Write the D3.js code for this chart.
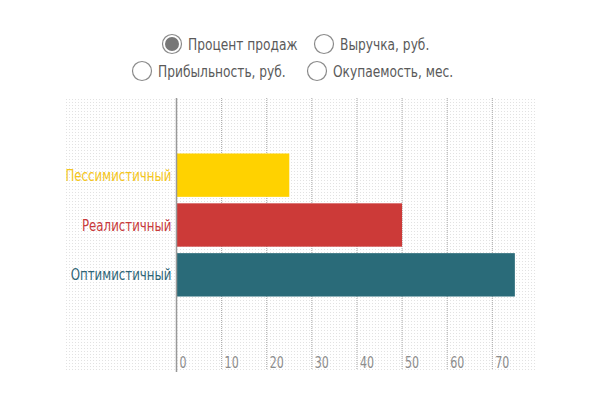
<!DOCTYPE html>
<html>
<head>
<meta charset="utf-8">
<script src="https://cdn.jsdelivr.net/npm/d3@7"></script>
<style>
  body { margin: 0; background: #fff; }
  svg { display: block; font-family: "Liberation Sans Narrow", "DejaVu Sans Condensed", "Roboto", sans-serif; }
</style>
</head>
<body>
<svg width="597" height="393"></svg>
<script>
// data
const categories = ["Пессимистичный", "Реалистичный", "Оптимистичный"];
const values = [25, 50, 75];
const colors = ["#ffd200", "#cc3a38", "#2a6b79"];
const labelColors = ["#f4c520", "#c8393b", "#2e6577"];
const ticks = [0, 10, 20, 30, 40, 50, 60, 70];
const options = ["Процент продаж", "Выручка, руб.", "Прибыльность, руб.", "Окупаемость, мес."];
const selected = 0;

// the fallback font is wider than the narrow one in the original
const squeeze = 0.82;

const svg = d3.select("svg");

// dotted background
const defs = svg.append("defs");
defs.append("pattern")
  .attr("id", "dots")
  .attr("width", 3).attr("height", 3)
  .attr("patternUnits", "userSpaceOnUse")
  .append("rect")
  .attr("width", 1).attr("height", 1)
  .attr("fill", "#e2e2e2");

svg.append("rect")
  .attr("x", 64).attr("y", 98)
  .attr("width", 471).attr("height", 272)
  .attr("fill", "url(#dots)");

const x = d3.scaleLinear().domain([0, 70]).range([176.5, 492.3]);
const y = d3.scaleBand()
  .domain(categories)
  .range([150, 300])
  .paddingInner(0.13)
  .paddingOuter(0.07);

// grid lines
svg.selectAll("line.grid")
  .data(ticks.slice(1))
  .enter()
  .append("line")
  .attr("class", "grid")
  .attr("x1", d => x(d)).attr("x2", d => x(d))
  .attr("y1", 98).attr("y2", 370)
  .attr("stroke", "#a8a8a8")
  .attr("stroke-dasharray", "1,1");

// bars
svg.selectAll("rect.bar")
  .data(values)
  .enter()
  .append("rect")
  .attr("class", "bar")
  .attr("x", x(0))
  .attr("y", (d, i) => y(categories[i]))
  .attr("width", d => x(d) - x(0))
  .attr("height", y.bandwidth())
  .attr("fill", (d, i) => colors[i]);

// zero axis
svg.append("line")
  .attr("x1", x(0)).attr("x2", x(0))
  .attr("y1", 98).attr("y2", 372)
  .attr("stroke", "#999")
  .attr("stroke-width", 1.5);

// category labels
svg.selectAll("text.cat")
  .data(categories)
  .enter()
  .append("text")
  .attr("class", "cat")
  .attr("transform", d => `translate(${x(0) - 5},${y(d) + y.bandwidth() / 2}) scale(${squeeze},1)`)
  .attr("dy", "0.35em")
  .attr("text-anchor", "end")
  .attr("font-size", 16)
  .attr("fill", (d, i) => labelColors[i])
  .text(d => d);

// tick labels
svg.selectAll("text.tick")
  .data(ticks)
  .enter()
  .append("text")
  .attr("class", "tick")
  .attr("transform", d => `translate(${x(d) + 3},368) scale(${squeeze},1)`)
  .attr("font-size", 15)
  .attr("fill", "#8c8c8c")
  .text(d => d);

// radio options
const optPos = [[172, 44], [324, 44], [142, 71], [317, 71]];
const opt = svg.selectAll("g.opt")
  .data(options)
  .enter()
  .append("g")
  .attr("class", "opt")
  .attr("transform", (d, i) => `translate(${optPos[i][0]},${optPos[i][1]})`);

opt.append("circle")
  .attr("r", 9.5)
  .attr("fill", "#fff")
  .attr("stroke", "#8a8a8a")
  .attr("stroke-width", 1.2);

opt.filter((d, i) => i === selected)
  .append("circle")
  .attr("r", 7)
  .attr("fill", "#777");

opt.append("text")
  .attr("transform", `translate(16,0) scale(${squeeze + 0.03},1)`)
  .attr("dy", "0.35em")
  .attr("font-size", 16)
  .attr("fill", "#5a5a5a")
  .text(d => d);
</script>
</body>
</html>
